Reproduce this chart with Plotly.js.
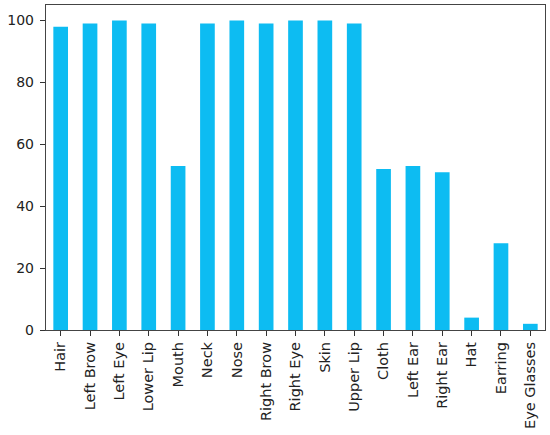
<!DOCTYPE html>
<html>
<head>
<meta charset="utf-8">
<script src="https://cdn.plot.ly/plotly-3.0.1.min.js"></script>
<style>html,body{margin:0;padding:0;background:#fff;}#chart{width:550px;height:435px;}</style>
</head>
<body>
<div id="chart"></div>
<script>
const categories = ["Hair","Left Brow","Left Eye","Lower Lip","Mouth","Neck","Nose","Right Brow","Right Eye","Skin","Upper Lip","Cloth","Left Ear","Right Ear","Hat","Earring","Eye Glasses"];
const values = [98,99,100,99,53,99,100,99,100,100,99,52,53,51,4,28,2];
const yTicks = [0,20,40,60,80,100];

const trace = {
  type: "bar",
  x: categories,
  y: values,
  width: 0.5,
  marker: {color: "#0dbcf2", line: {width: 0}},
  hoverinfo: "x+y"
};

const layout = {
  width: 550, height: 435,
  margin: {l: 46, r: 5, t: 5, b: 105, pad: 0},
  paper_bgcolor: "#fff", plot_bgcolor: "#fff",
  font: {family: "DejaVu Sans, sans-serif", size: 13.5, color: "#222"},
  showlegend: false,
  xaxis: {
    type: "category",
    range: [-0.5, 16.5],
    tickangle: -90,
    ticks: "outside", ticklen: 5, tickcolor: "#333", tickwidth: 1,
    showline: true, linecolor: "#444", linewidth: 1.2, mirror: true,
    showgrid: false, zeroline: false,
    tickfont: {size: 14.5}
  },
  yaxis: {
    range: [0, 105],
    tickvals: yTicks,
    ticktext: yTicks.map(String),
    ticks: "outside", ticklen: 5, tickcolor: "#333", tickwidth: 1,
    ticklabelstandoff: 3,
    showline: true, linecolor: "#444", linewidth: 1.2, mirror: true,
    showgrid: false, zeroline: false,
    tickfont: {size: 14}
  }
};

Plotly.newPlot("chart", [trace], layout, {displayModeBar: false, staticPlot: true});
</script>
</body>
</html>
